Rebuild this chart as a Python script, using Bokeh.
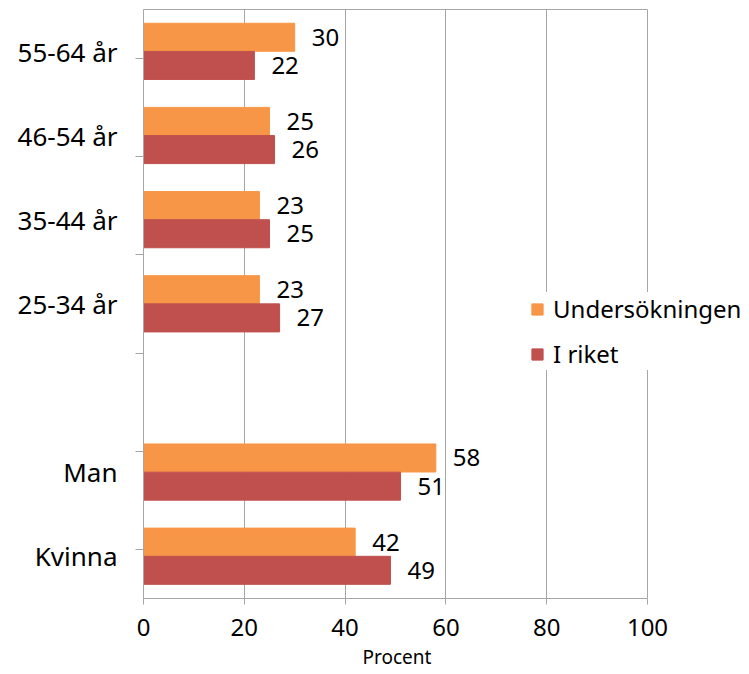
from bokeh.plotting import figure
from bokeh.models import (FactorRange, Range1d, ColumnDataSource, LabelSet, Legend, LegendItem,
                          CategoricalAxis, LinearAxis, FixedTicker, Title)
from bokeh.transform import dodge
from bokeh.core.properties import value
from bokeh.embed import file_html
from bokeh.resources import INLINE

# ---- data ----
groups = ["Kvinna", "Man", "25-34 år", "35-44 år", "46-54 år", "55-64 år"]
axis_factors = ["Kvinna", "Man", " ", "25-34 år", "35-44 år", "46-54 år", "55-64 år"]
undersokningen = [42, 58, 23, 23, 25, 30]
i_riket = [49, 51, 27, 25, 26, 22]
x_ticks = [0, 20, 40, 60, 80, 100]
series_names = ["Undersökningen", "I riket"]
x_label = "Procent"

ORANGE = "#F79646"
RED = "#C0504D"
GRAY = "#A6A6A6"
FONT = "Noto Sans"

# frame geometry (px)
W, H = 745, 674
LEFT, TOP, BOTTOM = 143, 9, 76
AXIS_PX = 504  # pixel length of 0..100 on the value axis
x_end = 100 * (W - LEFT) / AXIS_PX  # frame extends past 100 so the legend is not clipped

src = ColumnDataSource(dict(
    group=groups,
    u=undersokningen,
    r=i_riket,
    u_txt=[str(v) for v in undersokningen],
    r_txt=[str(v) for v in i_riket],
))

p = figure(width=W, height=H,
           y_range=FactorRange(factors=axis_factors),
           x_range=Range1d(0, x_end),
           output_backend="svg", toolbar_location=None,
           y_axis_location=None,
           min_border_left=LEFT, min_border_right=0,
           min_border_top=TOP, min_border_bottom=BOTTOM)

p.outline_line_color = None
p.background_fill_color = "white"
p.border_fill_color = "white"

# bars
ru = p.hbar(y=dodge("group", 0.17, range=p.y_range), right="u", left=0, height=0.333,
            source=src, fill_color=ORANGE, line_color=ORANGE)
rr = p.hbar(y=dodge("group", -0.165, range=p.y_range), right="r", left=0, height=0.333,
            source=src, fill_color=RED, line_color=RED)

# value labels
for col, off in (("u", 0.17), ("r", -0.165)):
    lab = LabelSet(x=col, y=dodge("group", off, range=p.y_range), text=col + "_txt", source=src,
                   x_offset=17, text_baseline="middle", text_align="left",
                   text_font=value(FONT), text_font_size="24px", text_color="black",
                   background_fill_color="white")
    p.add_layout(lab)

# x axis
xa = p.xaxis[0]
xa.ticker = FixedTicker(ticks=x_ticks)
xa.bounds = (0, 100)
xa.major_label_text_font = FONT
xa.major_label_text_font_size = "24px"
xa.major_label_text_color = "black"
xa.major_label_standoff = 14
xa.major_tick_out = 6
xa.major_tick_in = 0
xa.minor_tick_line_color = None
xa.axis_line_color = GRAY
xa.major_tick_line_color = GRAY

# axis title, centred under the 0..100 span
p.add_layout(Title(text=x_label, align="left", offset=219, standoff=6,
                   text_font=FONT, text_font_size="19px", text_font_style="normal",
                   text_color="black"), "below")

# top border of the plot area
top_axis = LinearAxis(ticker=FixedTicker(ticks=[]), bounds=(0, 100), axis_line_color=GRAY,
                      major_tick_line_color=None, minor_tick_line_color=None,
                      major_tick_out=0, major_tick_in=0, minor_tick_out=0, minor_tick_in=0,
                      major_label_text_font_size="0px", major_label_standoff=0)
p.add_layout(top_axis, "above")

p.xgrid.ticker = FixedTicker(ticks=x_ticks)
p.xgrid.grid_line_color = GRAY
for g in p.ygrid:
    g.visible = False

# y axes: tick marks at category edges (shifted factor range), labels at category centres
edge_names = ["edge%d" % i for i in range(len(axis_factors) + 1)]
p.extra_y_ranges = {"edges": FactorRange(factors=edge_names, range_padding=-1.0,
                                         range_padding_units="absolute")}
edge_axis = CategoricalAxis(y_range_name="edges",
                            major_label_text_font_size="0px", major_label_text_color=None,
                            major_label_standoff=0,
                            major_tick_out=8, major_tick_in=0,
                            axis_line_color=GRAY, major_tick_line_color=GRAY)
cat_axis = CategoricalAxis(axis_line_color=None, major_tick_line_color=None,
                           major_label_text_font=FONT, major_label_text_font_size="26px",
                           major_label_text_color="black",
                           major_label_standoff=18, major_tick_out=0, major_tick_in=0)
p.add_layout(edge_axis, "left")
p.add_layout(cat_axis, "left")

legend = Legend(items=[LegendItem(label=series_names[0], renderers=[ru]),
                       LegendItem(label=series_names[1], renderers=[rr])],
                location=(387, 228), orientation="vertical",
                glyph_width=14, glyph_height=14, label_height=24, spacing=12,
                label_text_font=FONT, label_text_font_size="24px", label_text_color="black",
                label_standoff=9, padding=6, margin=0,
                border_line_color=None, background_fill_color="white", background_fill_alpha=1)
p.add_layout(legend)

open("out.html", "w").write(file_html(p, INLINE))
